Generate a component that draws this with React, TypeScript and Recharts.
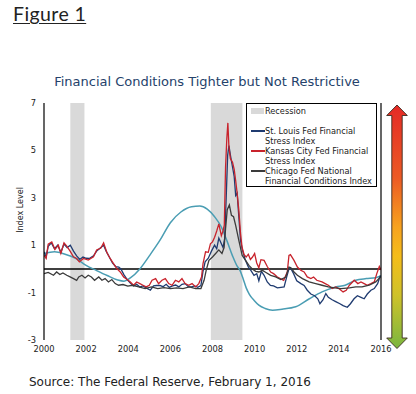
import React from 'react';
import { ComposedChart, Line, XAxis, YAxis, ReferenceArea, ReferenceLine, Legend } from 'recharts';

const xTicks = [2000, 2002, 2004, 2006, 2008, 2010, 2012, 2014, 2016];
const yTicks = [-3, -1, 1, 3, 5, 7];
const rightTicks = [-3, -2, -1, 0, 1, 2, 3, 4, 5, 6, 7];
const recessions: [number, number][] = [[2001.25, 2001.92], [2007.92, 2009.42]];

const stLouis: [number, number][] = [[2000.0,0.72],[2000.1,0.5],[2000.2,0.95],[2000.35,1.1],[2000.5,0.85],[2000.65,1.0],[2000.8,0.7],[2000.95,1.05],[2001.1,0.9],[2001.25,1.0],[2001.4,0.75],[2001.55,0.55],[2001.7,0.4],[2001.85,0.5],[2002.0,0.45],[2002.15,0.44],[2002.35,0.55],[2002.5,0.75],[2002.7,0.9],[2002.83,1.0],[2002.95,0.75],[2003.1,0.5],[2003.25,0.25],[2003.4,0.1],[2003.55,0.08],[2003.65,0.0],[2003.8,-0.25],[2003.95,-0.45],[2004.1,-0.6],[2004.25,-0.72],[2004.4,-0.65],[2004.55,-0.76],[2004.7,-0.72],[2004.85,-0.8],[2005.05,-0.9],[2005.2,-0.72],[2005.35,-0.7],[2005.5,-0.7],[2005.65,-0.75],[2005.8,-0.65],[2005.95,-0.78],[2006.1,-0.72],[2006.25,-0.68],[2006.4,-0.76],[2006.55,-0.65],[2006.7,-0.62],[2006.85,-0.75],[2007.0,-0.76],[2007.15,-0.72],[2007.3,-0.78],[2007.45,-0.7],[2007.55,-0.1],[2007.65,0.3],[2007.8,0.45],[2007.95,0.75],[2008.1,1.0],[2008.2,0.85],[2008.3,1.3],[2008.4,1.1],[2008.5,0.9],[2008.58,1.3],[2008.65,3.0],[2008.72,4.8],[2008.78,5.2],[2008.85,4.8],[2008.95,4.3],[2009.03,3.9],[2009.1,3.1],[2009.17,3.2],[2009.25,2.2],[2009.33,1.2],[2009.42,0.8],[2009.55,0.4],[2009.7,0.08],[2009.82,-0.06],[2009.97,-0.27],[2010.1,-0.2],[2010.2,-0.5],[2010.32,-0.1],[2010.45,-0.27],[2010.6,-0.55],[2010.75,-0.7],[2010.9,-0.72],[2011.08,-0.8],[2011.25,-0.78],[2011.4,-0.76],[2011.52,-0.35],[2011.63,0.0],[2011.7,0.05],[2011.85,-0.2],[2012.0,-0.5],[2012.2,-0.62],[2012.35,-0.7],[2012.5,-0.9],[2012.67,-1.06],[2012.85,-1.13],[2013.0,-1.26],[2013.1,-1.47],[2013.25,-1.3],[2013.38,-1.04],[2013.5,-1.2],[2013.68,-1.3],[2013.85,-1.38],[2014.05,-1.47],[2014.2,-1.55],[2014.4,-1.62],[2014.55,-1.47],[2014.72,-1.26],[2014.88,-1.13],[2015.05,-1.2],[2015.2,-1.26],[2015.35,-1.06],[2015.52,-0.9],[2015.68,-0.83],[2015.84,-0.62],[2015.97,-0.28]];

const kansasCity: [number, number][] = [[2000.0,0.58],[2000.1,0.44],[2000.2,1.04],[2000.37,1.14],[2000.52,0.82],[2000.68,1.0],[2000.8,0.65],[2000.95,1.1],[2001.08,0.96],[2001.24,0.75],[2001.4,0.51],[2001.55,0.44],[2001.68,0.3],[2001.87,0.44],[2002.1,0.37],[2002.35,0.51],[2002.5,0.8],[2002.7,0.88],[2002.83,1.1],[2002.98,0.7],[2003.14,0.44],[2003.3,0.22],[2003.46,0.01],[2003.62,-0.13],[2003.78,-0.34],[2003.95,-0.45],[2004.1,-0.55],[2004.25,-0.69],[2004.4,-0.55],[2004.55,-0.62],[2004.7,-0.69],[2004.85,-0.76],[2005.0,-0.69],[2005.13,-0.48],[2005.3,-0.41],[2005.44,-0.62],[2005.6,-0.48],[2005.76,-0.41],[2005.92,-0.62],[2006.08,-0.69],[2006.24,-0.48],[2006.4,-0.55],[2006.55,-0.41],[2006.7,-0.62],[2006.87,-0.69],[2007.03,-0.62],[2007.2,-0.76],[2007.35,-0.62],[2007.48,-0.34],[2007.55,0.22],[2007.67,0.72],[2007.8,0.7],[2007.9,1.06],[2008.0,1.14],[2008.1,1.34],[2008.2,1.6],[2008.3,1.9],[2008.42,1.4],[2008.5,1.6],[2008.56,1.85],[2008.62,4.3],[2008.68,5.5],[2008.73,6.16],[2008.78,5.14],[2008.85,4.65],[2008.95,4.5],[2009.03,4.2],[2009.1,3.73],[2009.17,3.2],[2009.25,2.47],[2009.33,1.5],[2009.4,0.93],[2009.5,0.6],[2009.6,0.5],[2009.7,0.62],[2009.8,0.4],[2009.9,0.5],[2010.0,0.65],[2010.1,0.25],[2010.2,0.05],[2010.3,0.39],[2010.45,0.36],[2010.6,0.1],[2010.76,-0.13],[2010.9,-0.2],[2011.08,-0.34],[2011.2,-0.4],[2011.38,-0.48],[2011.55,-0.13],[2011.63,0.57],[2011.7,0.6],[2011.87,0.36],[2012.03,0.08],[2012.19,-0.06],[2012.35,-0.13],[2012.5,-0.34],[2012.67,-0.41],[2012.8,-0.34],[2012.95,-0.48],[2013.2,-0.55],[2013.35,-0.62],[2013.5,-0.69],[2013.68,-0.83],[2013.85,-0.76],[2014.0,-0.83],[2014.2,-0.97],[2014.35,-0.9],[2014.5,-0.69],[2014.73,-0.48],[2014.9,-0.62],[2015.05,-0.55],[2015.2,-0.62],[2015.35,-0.69],[2015.52,-0.62],[2015.68,-0.55],[2015.8,-0.2],[2015.92,0.1],[2016.0,-0.05]];

const chicago: [number, number][] = [[2000.0,-0.2],[2000.2,-0.15],[2000.45,-0.27],[2000.6,-0.13],[2000.75,-0.24],[2000.9,-0.17],[2001.08,-0.27],[2001.24,-0.34],[2001.4,-0.41],[2001.55,-0.48],[2001.65,-0.34],[2001.8,-0.27],[2001.95,-0.38],[2002.1,-0.27],[2002.25,-0.34],[2002.4,-0.48],[2002.6,-0.34],[2002.75,-0.48],[2002.9,-0.41],[2003.06,-0.55],[2003.22,-0.45],[2003.38,-0.62],[2003.54,-0.69],[2003.75,-0.66],[2003.98,-0.73],[2004.2,-0.69],[2004.5,-0.76],[2004.8,-0.83],[2005.1,-0.76],[2005.4,-0.83],[2005.7,-0.79],[2006.0,-0.83],[2006.3,-0.8],[2006.6,-0.83],[2006.9,-0.76],[2007.2,-0.83],[2007.45,-0.83],[2007.6,-0.48],[2007.7,-0.06],[2007.83,0.36],[2008.0,0.5],[2008.15,0.65],[2008.3,0.8],[2008.45,0.65],[2008.55,0.9],[2008.62,1.7],[2008.7,2.5],[2008.8,2.7],[2008.9,2.26],[2009.0,2.2],[2009.1,1.84],[2009.25,1.2],[2009.41,0.57],[2009.57,0.36],[2009.73,0.15],[2009.89,0.0],[2010.05,-0.1],[2010.2,-0.13],[2010.37,-0.06],[2010.5,-0.13],[2010.76,-0.27],[2011.0,-0.34],[2011.24,-0.45],[2011.48,-0.34],[2011.63,0.08],[2011.72,0.05],[2011.87,-0.13],[2012.03,-0.27],[2012.27,-0.41],[2012.59,-0.55],[2012.9,-0.62],[2013.2,-0.69],[2013.5,-0.76],[2013.8,-0.8],[2014.1,-0.83],[2014.5,-0.8],[2014.8,-0.76],[2015.1,-0.76],[2015.44,-0.69],[2015.75,-0.55],[2015.97,-0.34]];

const tealLine: [number, number][] = [[2000.0,0.65],[2000.5,0.72],[2001.0,0.62],[2001.5,0.45],[2002.0,0.15],[2002.5,-0.07],[2003.0,-0.28],[2003.5,-0.47],[2003.8,-0.52],[2004.1,-0.38],[2004.55,0.0],[2005.0,0.55],[2005.5,1.2],[2006.0,1.95],[2006.5,2.4],[2007.0,2.62],[2007.4,2.65],[2007.75,2.52],[2008.1,2.2],[2008.4,1.8],[2008.7,1.15],[2008.95,0.55],[2009.15,0.15],[2009.3,-0.05],[2009.45,-0.4],[2009.6,-0.8],[2009.75,-1.07],[2010.0,-1.35],[2010.2,-1.53],[2010.5,-1.67],[2010.85,-1.74],[2011.3,-1.7],[2011.95,-1.6],[2012.6,-1.26],[2013.2,-0.97],[2013.85,-0.76],[2014.3,-0.69],[2014.8,-0.48],[2015.3,-0.41],[2015.75,-0.37],[2016.0,-0.3]];

const legendItems = [
  { kind: 'box', color: '#d9d9d9', lines: ['Recession'] },
  { kind: 'gap', color: '', lines: [''] },
  { kind: 'line', color: '#1f3b70', lines: ['St. Louis Fed Financial', 'Stress Index'] },
  { kind: 'line', color: '#c8232c', lines: ['Kansas City Fed Financial', 'Stress Index'] },
  { kind: 'line', color: '#3b3b3b', lines: ['Chicago Fed National', 'Financial Conditions Index'] },
];

const toPts = (arr: [number, number][]) => arr.map(([x, v]) => ({ x, v }));

const FONT = '"DejaVu Sans", Verdana, sans-serif';

function LegendBox() {
  return (
    <div style={{ width: 131, height: 84, boxSizing: 'border-box', border: '1px solid #000', background: '#fff', paddingTop: 2, fontFamily: FONT, fontSize: 8.2, lineHeight: '10px', color: '#222' }}>
      {legendItems.map((it, i) => (
        <div key={i} style={{ display: 'flex', alignItems: 'flex-start' }}>
          <div style={{ width: 18, flex: '0 0 18px', height: 10, position: 'relative' }}>
            {it.kind === 'box' && <div style={{ position: 'absolute', left: 4, top: 2, width: 13, height: 6, background: it.color }} />}
            {it.kind === 'line' && <div style={{ position: 'absolute', left: 4, top: 4, width: 14, height: 2, background: it.color }} />}
          </div>
          <div style={{ whiteSpace: 'nowrap' }}>
            {it.lines.map((l, j) => <div key={j} style={{ height: 10 }}>{l}</div>)}
          </div>
        </div>
      ))}
    </div>
  );
}

export default function App() {
  return (
    <div style={{ position: 'absolute', left: 0, top: 0, width: 416, height: 394, background: '#fff', overflow: 'hidden' }}>
      <div style={{ position: 'absolute', left: 13, top: 2, fontFamily: 'Lato, "Open Sans", sans-serif', fontSize: 19.5, letterSpacing: 0.4, lineHeight: '23px', color: '#222', textDecoration: 'underline', textDecorationThickness: 1, textUnderlineOffset: 2 }}>Figure 1</div>
      <div style={{ position: 'absolute', left: 0, top: 74, width: 414, textAlign: 'center', fontFamily: FONT, fontSize: 13, lineHeight: '16px', color: '#25426b' }}>Financial Conditions Tighter but Not Restrictive</div>
      <div style={{ position: 'absolute', left: 0, top: 0 }}>
        <ComposedChart width={416} height={394} margin={{ top: 103, right: 35, bottom: 53, left: 43 }}>
          {recessions.map(([a, b], i) => (
            <ReferenceArea key={i} x1={a} x2={b} y1={-3} y2={7} fill="#d9d9d9" fillOpacity={1} stroke="none" ifOverflow="visible" />
          ))}
          <XAxis dataKey="x" type="number" domain={[2000, 2016]} ticks={xTicks} allowDataOverflow height={1} axisLine={false} tickLine={false} tickMargin={0} tick={{ fontSize: 8.3, fill: '#222', fontFamily: FONT }} interval={0} />
          <YAxis type="number" domain={[-3, 7]} ticks={yTicks} allowDataOverflow width={1} axisLine={{ stroke: '#000', strokeWidth: 1.2 }} tickLine={false} tick={{ fontSize: 8.3, fill: '#222', fontFamily: FONT }} interval={0} />
          <YAxis yAxisId="r" orientation="right" mirror type="number" domain={[-3, 7]} ticks={rightTicks} allowDataOverflow width={1} axisLine={{ stroke: '#000', strokeWidth: 1.2 }} tickLine={{ stroke: '#000', strokeWidth: 1 }} tickSize={4} tick={false} interval={0} />
          <ReferenceLine y={0} stroke="#000" strokeWidth={1.5} />
          <Line data={toPts(tealLine)} dataKey="v" type="monotone" stroke="#4a9db3" strokeWidth={1.5} dot={false} isAnimationActive={false} />
          <Line data={toPts(stLouis)} dataKey="v" type="linear" stroke="#1f3b70" strokeWidth={1.3} dot={false} isAnimationActive={false} />
          <Line data={toPts(kansasCity)} dataKey="v" type="linear" stroke="#c8232c" strokeWidth={1.3} dot={false} isAnimationActive={false} />
          <Line data={toPts(chicago)} dataKey="v" type="linear" stroke="#3b3b3b" strokeWidth={1.3} dot={false} isAnimationActive={false} />
          <Legend layout="vertical" align="center" verticalAlign="middle" wrapperStyle={{ left: 246, top: 103, width: 131, height: 84 }} content={() => <LegendBox />} />
        </ComposedChart>
      </div>
      <svg width={416} height={394} style={{ position: 'absolute', left: 0, top: 0, pointerEvents: 'none' }}>
        <defs>
          <linearGradient id="arrowGrad" x1="0" y1="0" x2="0" y2="1">
            <stop offset="0" stopColor="#e42a26" />
            <stop offset="0.3" stopColor="#ec5a24" />
            <stop offset="0.5" stopColor="#f7a21e" />
            <stop offset="0.62" stopColor="#f5bd1a" />
            <stop offset="0.78" stopColor="#cfc22a" />
            <stop offset="1" stopColor="#7ab640" />
          </linearGradient>
        </defs>
        <polygon points="397,105 407.3,115.5 402.2,115.5 402.2,338 407.3,338 397,348.5 386.7,338 391.8,338 391.8,115.5 386.7,115.5" fill="url(#arrowGrad)" stroke="#3a2a20" strokeWidth={0.9} strokeLinejoin="miter" />
        <text x={22.8} y={210} transform="rotate(-90 22.8 210)" textAnchor="middle" fontFamily={FONT} fontSize={8} fill="#222">Index Level</text>
      </svg>
      <div style={{ position: 'absolute', left: 29, top: 375, fontFamily: FONT, fontSize: 12, lineHeight: '15px', color: '#222', whiteSpace: 'nowrap' }}>Source: The Federal Reserve, February 1, 2016</div>
    </div>
  );
}
